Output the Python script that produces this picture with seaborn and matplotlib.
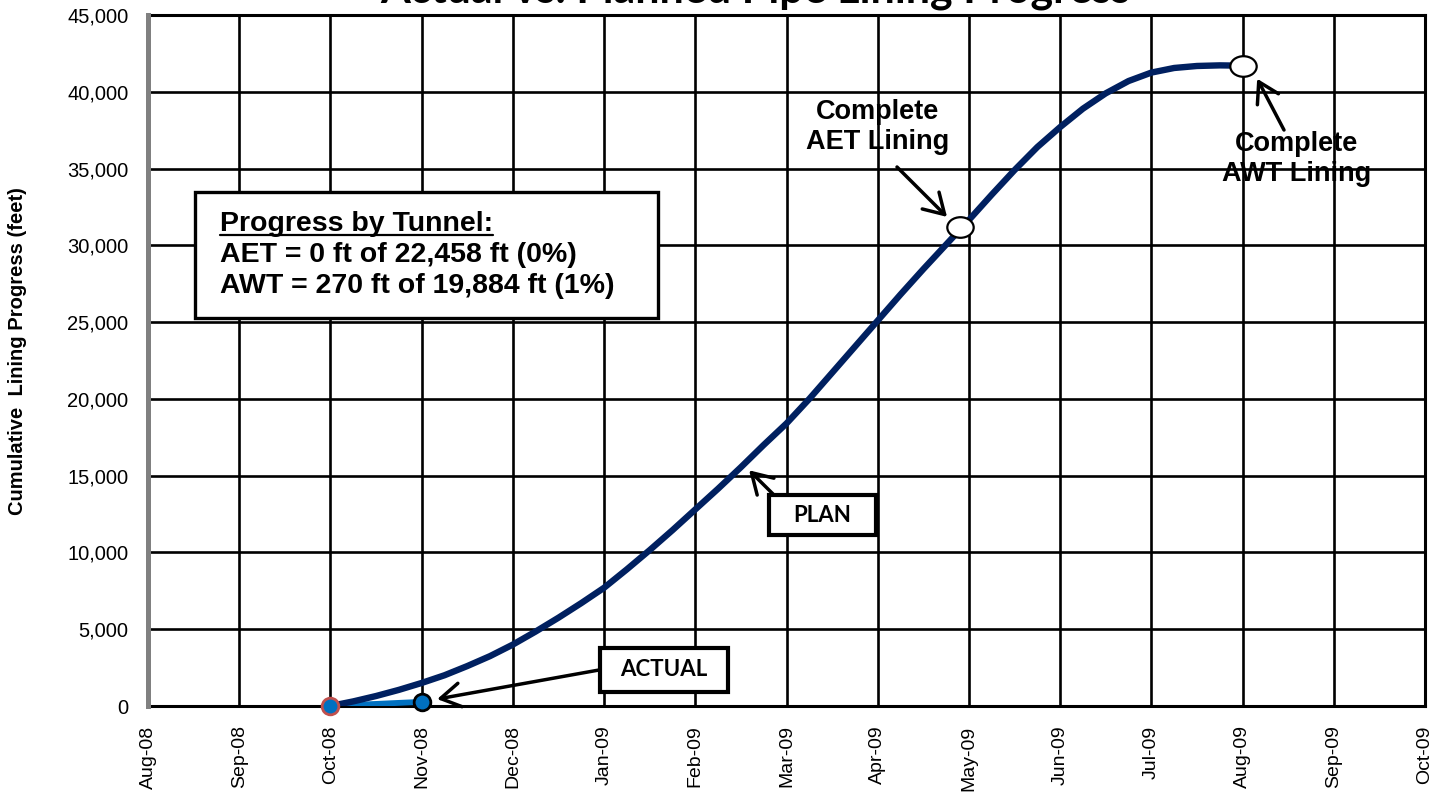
import numpy as np
import pandas as pd
import matplotlib
matplotlib.use("Agg")
import matplotlib.pyplot as plt
from matplotlib.patches import Rectangle
from matplotlib.lines import Line2D
from matplotlib.path import Path
import seaborn as sns

# ---- data -------------------------------------------------------------
month_labels = ["Aug-08", "Sep-08", "Oct-08", "Nov-08", "Dec-08", "Jan-09",
                "Feb-09", "Mar-09", "Apr-09", "May-09", "Jun-09", "Jul-09",
                "Aug-09", "Sep-09", "Oct-09"]

# planned cumulative lining, position in months from Aug-08
plan_month = [2.0, 2.25, 2.5, 2.75, 3.0, 3.25, 3.5, 3.75, 4.0,
              4.25, 4.5, 4.75, 5.0, 5.25, 5.5, 5.75, 6.0,
              6.25, 6.5, 6.75, 7.0, 7.25, 7.5, 7.75, 8.0,
              8.25, 8.5, 8.75, 9.0, 9.25, 9.5, 9.75, 10.0,
              10.25, 10.5, 10.75, 11.0, 11.25, 11.5, 11.75, 12.0]
plan_feet = [0, 300, 650, 1050, 1500, 2000, 2600, 3250, 4000,
             4850, 5750, 6700, 7700, 8900, 10150, 11450, 12800,
             14150, 15550, 17000, 18400, 20000, 21700, 23400, 25100,
             26800, 28450, 30050, 31650, 33300, 34900, 36400, 37700,
             38900, 39900, 40700, 41250, 41550, 41680, 41720, 41700]

# actual cumulative lining
actual_month = [2.0, 3.0]
actual_feet = [0, 270]

# plan milestones
milestone_month = [8.9, 12.0]
milestone_feet = [31200, 41700]
milestone_text = ["Complete\nAET Lining", "Complete\nAWT Lining"]

summary_title = "Progress by Tunnel:"
summary_lines = ["AET = 0 ft of 22,458 ft (0%)", "AWT = 270 ft of 19,884 ft (1%)"]

y_ticks = list(range(0, 45001, 5000))

# ---- figure -----------------------------------------------------------
W, H = 1452, 802
sns.set_theme(style="white")
plt.rcParams["font.family"] = ["Liberation Sans", "DejaVu Sans"]
for key in ("text.color", "axes.labelcolor", "xtick.color", "ytick.color"):
    plt.rcParams[key] = "black"

fig = plt.figure(figsize=(W / 100, H / 100), dpi=100)
L, R, T, B = 148, 1425, 15, 706
ax = fig.add_axes([L / W, 1 - B / H, (R - L) / W, (B - T) / H])


def fpx(x, y):
    """pixel position -> figure fraction"""
    return x / W, 1 - y / H


PLAN_C = "#002060"
ACT_C = "#0070C0"

plan_df = pd.DataFrame({"month": plan_month, "feet": plan_feet})
act_df = pd.DataFrame({"month": actual_month, "feet": actual_feet})

sns.lineplot(data=act_df, x="month", y="feet", ax=ax, color=ACT_C, lw=4.2,
             sort=False, estimator=None, zorder=4, solid_capstyle="round")
sns.lineplot(data=plan_df, x="month", y="feet", ax=ax, color=PLAN_C, lw=4.6,
             sort=False, estimator=None, zorder=5, solid_capstyle="round",
             solid_joinstyle="round")

# actual points
ax.plot(actual_month[:1], actual_feet[:1], "o", ms=12, mfc=ACT_C, mec="#C0504D",
        mew=2.0, zorder=7, clip_on=False)
ax.plot(actual_month[1:], actual_feet[1:], "o", ms=12, mfc=ACT_C, mec="black",
        mew=2.0, zorder=7, clip_on=False)

# milestone markers (slightly flattened ellipse)
circ = Path.unit_circle()
ell = Path(circ.vertices * np.array([1.0, 0.78]), circ.codes)
ax.plot(milestone_month, milestone_feet, linestyle="none", marker=ell, ms=19,
        mfc="white", mec="black", mew=1.6, zorder=8, clip_on=False)

# axes / grid
ax.set_xlim(0, len(month_labels) - 1)
ax.set_ylim(0, 45000)
ax.set_xticks(range(len(month_labels)))
ax.set_xticklabels(month_labels, rotation=90, fontsize=14, va="top")
ax.set_yticks(y_ticks)
ax.set_yticklabels([f"{v:,}" for v in y_ticks], fontsize=14.5)
ax.tick_params(axis="x", length=0, pad=14)
ax.tick_params(axis="y", length=6, width=3, color="#808080", pad=8, direction="out")
ax.grid(True, color="black", lw=1.9, zorder=1)
ax.set_axisbelow(True)
for side in ("top", "right", "bottom"):
    ax.spines[side].set_color("black")
    ax.spines[side].set_linewidth(2.2)
ax.spines["left"].set_color("#808080")
ax.spines["left"].set_linewidth(3.6)
ax.spines["left"].set_zorder(6)
ax.set_xlabel("")
ax.set_ylabel("")

fig.text(*fpx(18, 351), "Cumulative  Lining Progress (feet)", rotation=90,
         ha="center", va="center", fontsize=14.5, fontweight="bold")

# title (sits partly above the canvas)
fig.text(*fpx(755, 3), "Actual vs. Planned Pipe Lining Progress", ha="center",
         va="baseline", fontsize=31, fontweight="bold", family=["Lato", "DejaVu Sans"])

# summary box
x0, y0 = fpx(195, 318)
x1, y1 = fpx(658, 192)
fig.add_artist(Rectangle((x0, y0), x1 - x0, y1 - y0, transform=fig.transFigure,
                         fc="white", ec="black", lw=2.4, zorder=10))
t_head = fig.text(*fpx(220, 231), summary_title, ha="left", va="baseline",
                  fontsize=20.5, fontweight="bold", zorder=11)
for i, line in enumerate(summary_lines):
    fig.text(*fpx(220, 262 + 31 * i), line, ha="left", va="baseline",
             fontsize=20.5, fontweight="bold", zorder=11)
fig.canvas.draw()
bb = t_head.get_window_extent()
uy = 1 - 235 / H
fig.add_artist(Line2D([bb.x0 / W, bb.x1 / W], [uy, uy], transform=fig.transFigure,
                      color="black", lw=1.6, zorder=11))

ARROW = dict(arrowstyle="->,head_length=0.75,head_width=0.45", lw=2.5,
             color="black", mutation_scale=19, shrinkA=0, shrinkB=0)


# labelled boxes with arrows
def boxed_label(text, box, tip_data, tail_px):
    bx0, by0 = fpx(box[0], box[3])
    bx1, by1 = fpx(box[2], box[1])
    fig.add_artist(Rectangle((bx0, by0), bx1 - bx0, by1 - by0,
                             transform=fig.transFigure, fc="white", ec="black",
                             lw=3.0, zorder=10))
    fig.text((bx0 + bx1) / 2, (by0 + by1) / 2, text, ha="center", va="center",
             fontsize=16, fontweight="bold", family=["Lato", "DejaVu Sans"],
             zorder=11)
    ax.annotate("", xy=tip_data, xycoords="data",
                xytext=fpx(*tail_px), textcoords="figure fraction",
                arrowprops=ARROW, zorder=9)


boxed_label("ACTUAL", (600, 648, 728, 692), (3.17, 450), (599, 670))
boxed_label("PLAN", (769, 495, 876, 535), (6.59, 15350), (773, 494))

# milestone notes
ax.annotate("", xy=(8.76, 31850), xycoords="data", xytext=fpx(897, 167),
            textcoords="figure fraction", arrowprops=ARROW, zorder=9)
ax.annotate("", xy=(12.16, 40850), xycoords="data", xytext=fpx(1284, 130),
            textcoords="figure fraction", arrowprops=ARROW, zorder=9)
fig.text(*fpx(878, 127), milestone_text[0], ha="center", va="center",
         fontsize=19.5, fontweight="bold", linespacing=1.2, zorder=11)
fig.text(*fpx(1297, 159), milestone_text[1], ha="center", va="center",
         fontsize=19.5, fontweight="bold", linespacing=1.2, zorder=11)

fig.savefig("out.png", dpi=100, facecolor="white")
